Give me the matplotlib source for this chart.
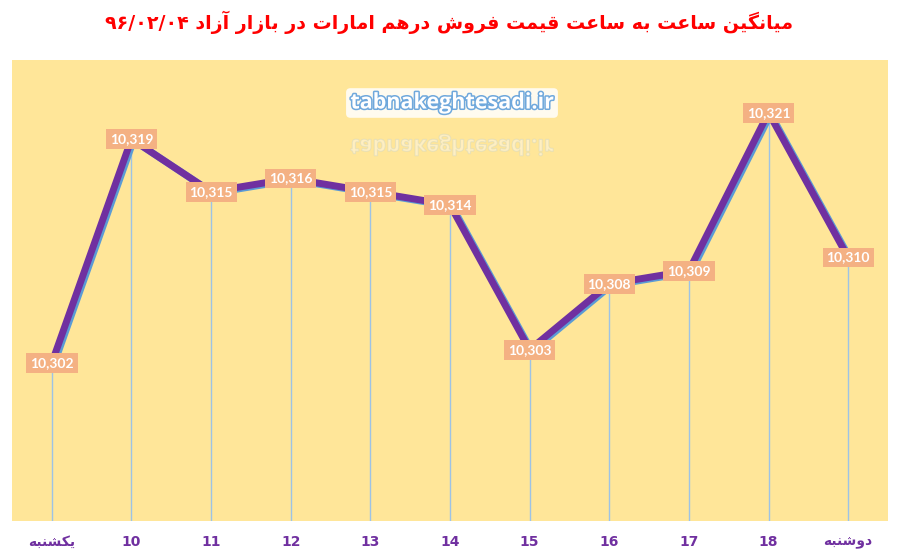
import matplotlib
matplotlib.use("Agg")
import matplotlib.pyplot as plt
import matplotlib.patheffects as pe
from matplotlib.textpath import TextPath
from matplotlib.font_manager import FontProperties
from matplotlib.patches import PathPatch
from matplotlib.transforms import Affine2D

# data
categories = ["یکشنبه", "10", "11", "12", "13", "14", "15", "16", "17", "18", "دوشنبه"]
values = [10302, 10319, 10315, 10316, 10315, 10314, 10303, 10308, 10309, 10321, 10310]
title_text = "میانگین ساعت به ساعت قیمت فروش درهم امارات در بازار آزاد"
title_date = "۹۶/۰۲/۰۴"
watermark = "tabnakeghtesadi.ir"

# minimal arabic/persian shaping (matplotlib has no text shaping)
FORMS = {
    "ا": (0xFE8D, 0xFE8E, None, None), "آ": (0xFE81, 0xFE82, None, None),
    "ب": (0xFE8F, 0xFE90, 0xFE91, 0xFE92), "پ": (0xFB56, 0xFB57, 0xFB58, 0xFB59),
    "ت": (0xFE95, 0xFE96, 0xFE97, 0xFE98), "ث": (0xFE99, 0xFE9A, 0xFE9B, 0xFE9C),
    "ج": (0xFE9D, 0xFE9E, 0xFE9F, 0xFEA0), "چ": (0xFB7A, 0xFB7B, 0xFB7C, 0xFB7D),
    "ح": (0xFEA1, 0xFEA2, 0xFEA3, 0xFEA4), "خ": (0xFEA5, 0xFEA6, 0xFEA7, 0xFEA8),
    "د": (0xFEA9, 0xFEAA, None, None), "ذ": (0xFEAB, 0xFEAC, None, None),
    "ر": (0xFEAD, 0xFEAE, None, None), "ز": (0xFEAF, 0xFEB0, None, None),
    "ژ": (0xFB8A, 0xFB8B, None, None), "س": (0xFEB1, 0xFEB2, 0xFEB3, 0xFEB4),
    "ش": (0xFEB5, 0xFEB6, 0xFEB7, 0xFEB8), "ص": (0xFEB9, 0xFEBA, 0xFEBB, 0xFEBC),
    "ض": (0xFEBD, 0xFEBE, 0xFEBF, 0xFEC0), "ط": (0xFEC1, 0xFEC2, 0xFEC3, 0xFEC4),
    "ظ": (0xFEC5, 0xFEC6, 0xFEC7, 0xFEC8), "ع": (0xFEC9, 0xFECA, 0xFECB, 0xFECC),
    "غ": (0xFECD, 0xFECE, 0xFECF, 0xFED0), "ف": (0xFED1, 0xFED2, 0xFED3, 0xFED4),
    "ق": (0xFED5, 0xFED6, 0xFED7, 0xFED8), "ک": (0xFB8E, 0xFB8F, 0xFB90, 0xFB91),
    "گ": (0xFB92, 0xFB93, 0xFB94, 0xFB95), "ل": (0xFEDD, 0xFEDE, 0xFEDF, 0xFEE0),
    "م": (0xFEE1, 0xFEE2, 0xFEE3, 0xFEE4), "ن": (0xFEE5, 0xFEE6, 0xFEE7, 0xFEE8),
    "ه": (0xFEE9, 0xFEEA, 0xFEEB, 0xFEEC), "و": (0xFEED, 0xFEEE, None, None),
    "ی": (0xFBFC, 0xFBFD, 0xFBFE, 0xFBFF),
}


def shape(word):
    out = []
    for i, ch in enumerate(word):
        if ch not in FORMS:
            out.append(ch)
            continue
        prev = word[i - 1] if i > 0 else None
        nxt = word[i + 1] if i + 1 < len(word) else None
        join_prev = prev in FORMS and FORMS[prev][2] is not None
        join_next = nxt in FORMS and FORMS[ch][2] is not None
        iso, fin, ini, med = FORMS[ch]
        if join_prev and join_next:
            code = med
        elif join_prev:
            code = fin
        elif join_next:
            code = ini
        else:
            code = iso
        out.append(chr(code))
    return "".join(out)


def rtl(text):
    return " ".join(shape(w)[::-1] for w in text.split(" ")[::-1])


plt.rcParams['font.family'] = ['DejaVu Sans']

fig = plt.figure(figsize=(8.98, 5.52), dpi=100)
ax = fig.add_axes([12 / 898, 31 / 552, 876 / 898, 461 / 552])
ax.set_facecolor('#FFE699')

x = list(range(len(values)))
ax.set_xlim(-0.5, len(values) - 0.5)
ax.set_ylim(10290, 10325)

ax.vlines(x, 10290, values, color='#9DC3E6', linewidth=1, zorder=1)
ax.plot(x, values, color='#7030A0', linewidth=5, solid_joinstyle='miter', zorder=2,
        path_effects=[pe.SimpleLineShadow(offset=(1.5, -1.0), shadow_color='#5B9BD5', alpha=1),
                      pe.Normal()])

for xi, v in zip(x, values):
    ax.text(xi, v, f"{v:,}", ha='center', va='center', fontsize=10, fontweight='bold',
            family=['Lato', 'DejaVu Sans'], color='white', zorder=4,
            bbox=dict(boxstyle='square,pad=0.28', facecolor='#F4B183', edgecolor='none'))

ax.set_xticks(x)
ax.set_xticklabels([rtl(c) if not c.isdigit() else c for c in categories],
                   color='#7030A0', fontsize=10, fontweight='bold')
ax.tick_params(axis='x', length=0, pad=10)
ax.set_yticks([])
for s in ax.spines.values():
    s.set_visible(False)

fig.text(0.5, 1 - 22 / 552, title_date + " " + rtl(title_text), ha='center', va='center',
         color='#FF0000', fontsize=13.7, fontweight='bold')

# watermark with reflection
wx, wy = 452 / 898, 1 - 103 / 552
fig.text(wx, wy, watermark, ha='center', va='center', fontsize=15.5, fontweight='bold',
         family=['Open Sans', 'DejaVu Sans'], color='white', zorder=5,
         path_effects=[pe.withStroke(linewidth=2.2, foreground='#6FA8DC')],
         bbox=dict(boxstyle='round,pad=0.2,rounding_size=0.2', facecolor='white',
                   edgecolor='none', alpha=0.85))

fp = FontProperties(family='Open Sans', weight='bold', size=15.5)
tp = TextPath((0, 0), watermark, prop=fp)
ext = tp.get_extents()
px_scale = 100 / 72
cx, cy = 452, 552 - 145
tr = (Affine2D().translate(-(ext.x0 + ext.x1) / 2, -(ext.y0 + ext.y1) / 2)
      .scale(px_scale, -px_scale).translate(cx, cy))
refl = PathPatch(tr.transform_path(tp), facecolor='white', edgecolor='#C9D3C8',
                 linewidth=0.8, alpha=0.4, transform=None, zorder=3)
fig.add_artist(refl)

fig.savefig('out.png', dpi=100)
